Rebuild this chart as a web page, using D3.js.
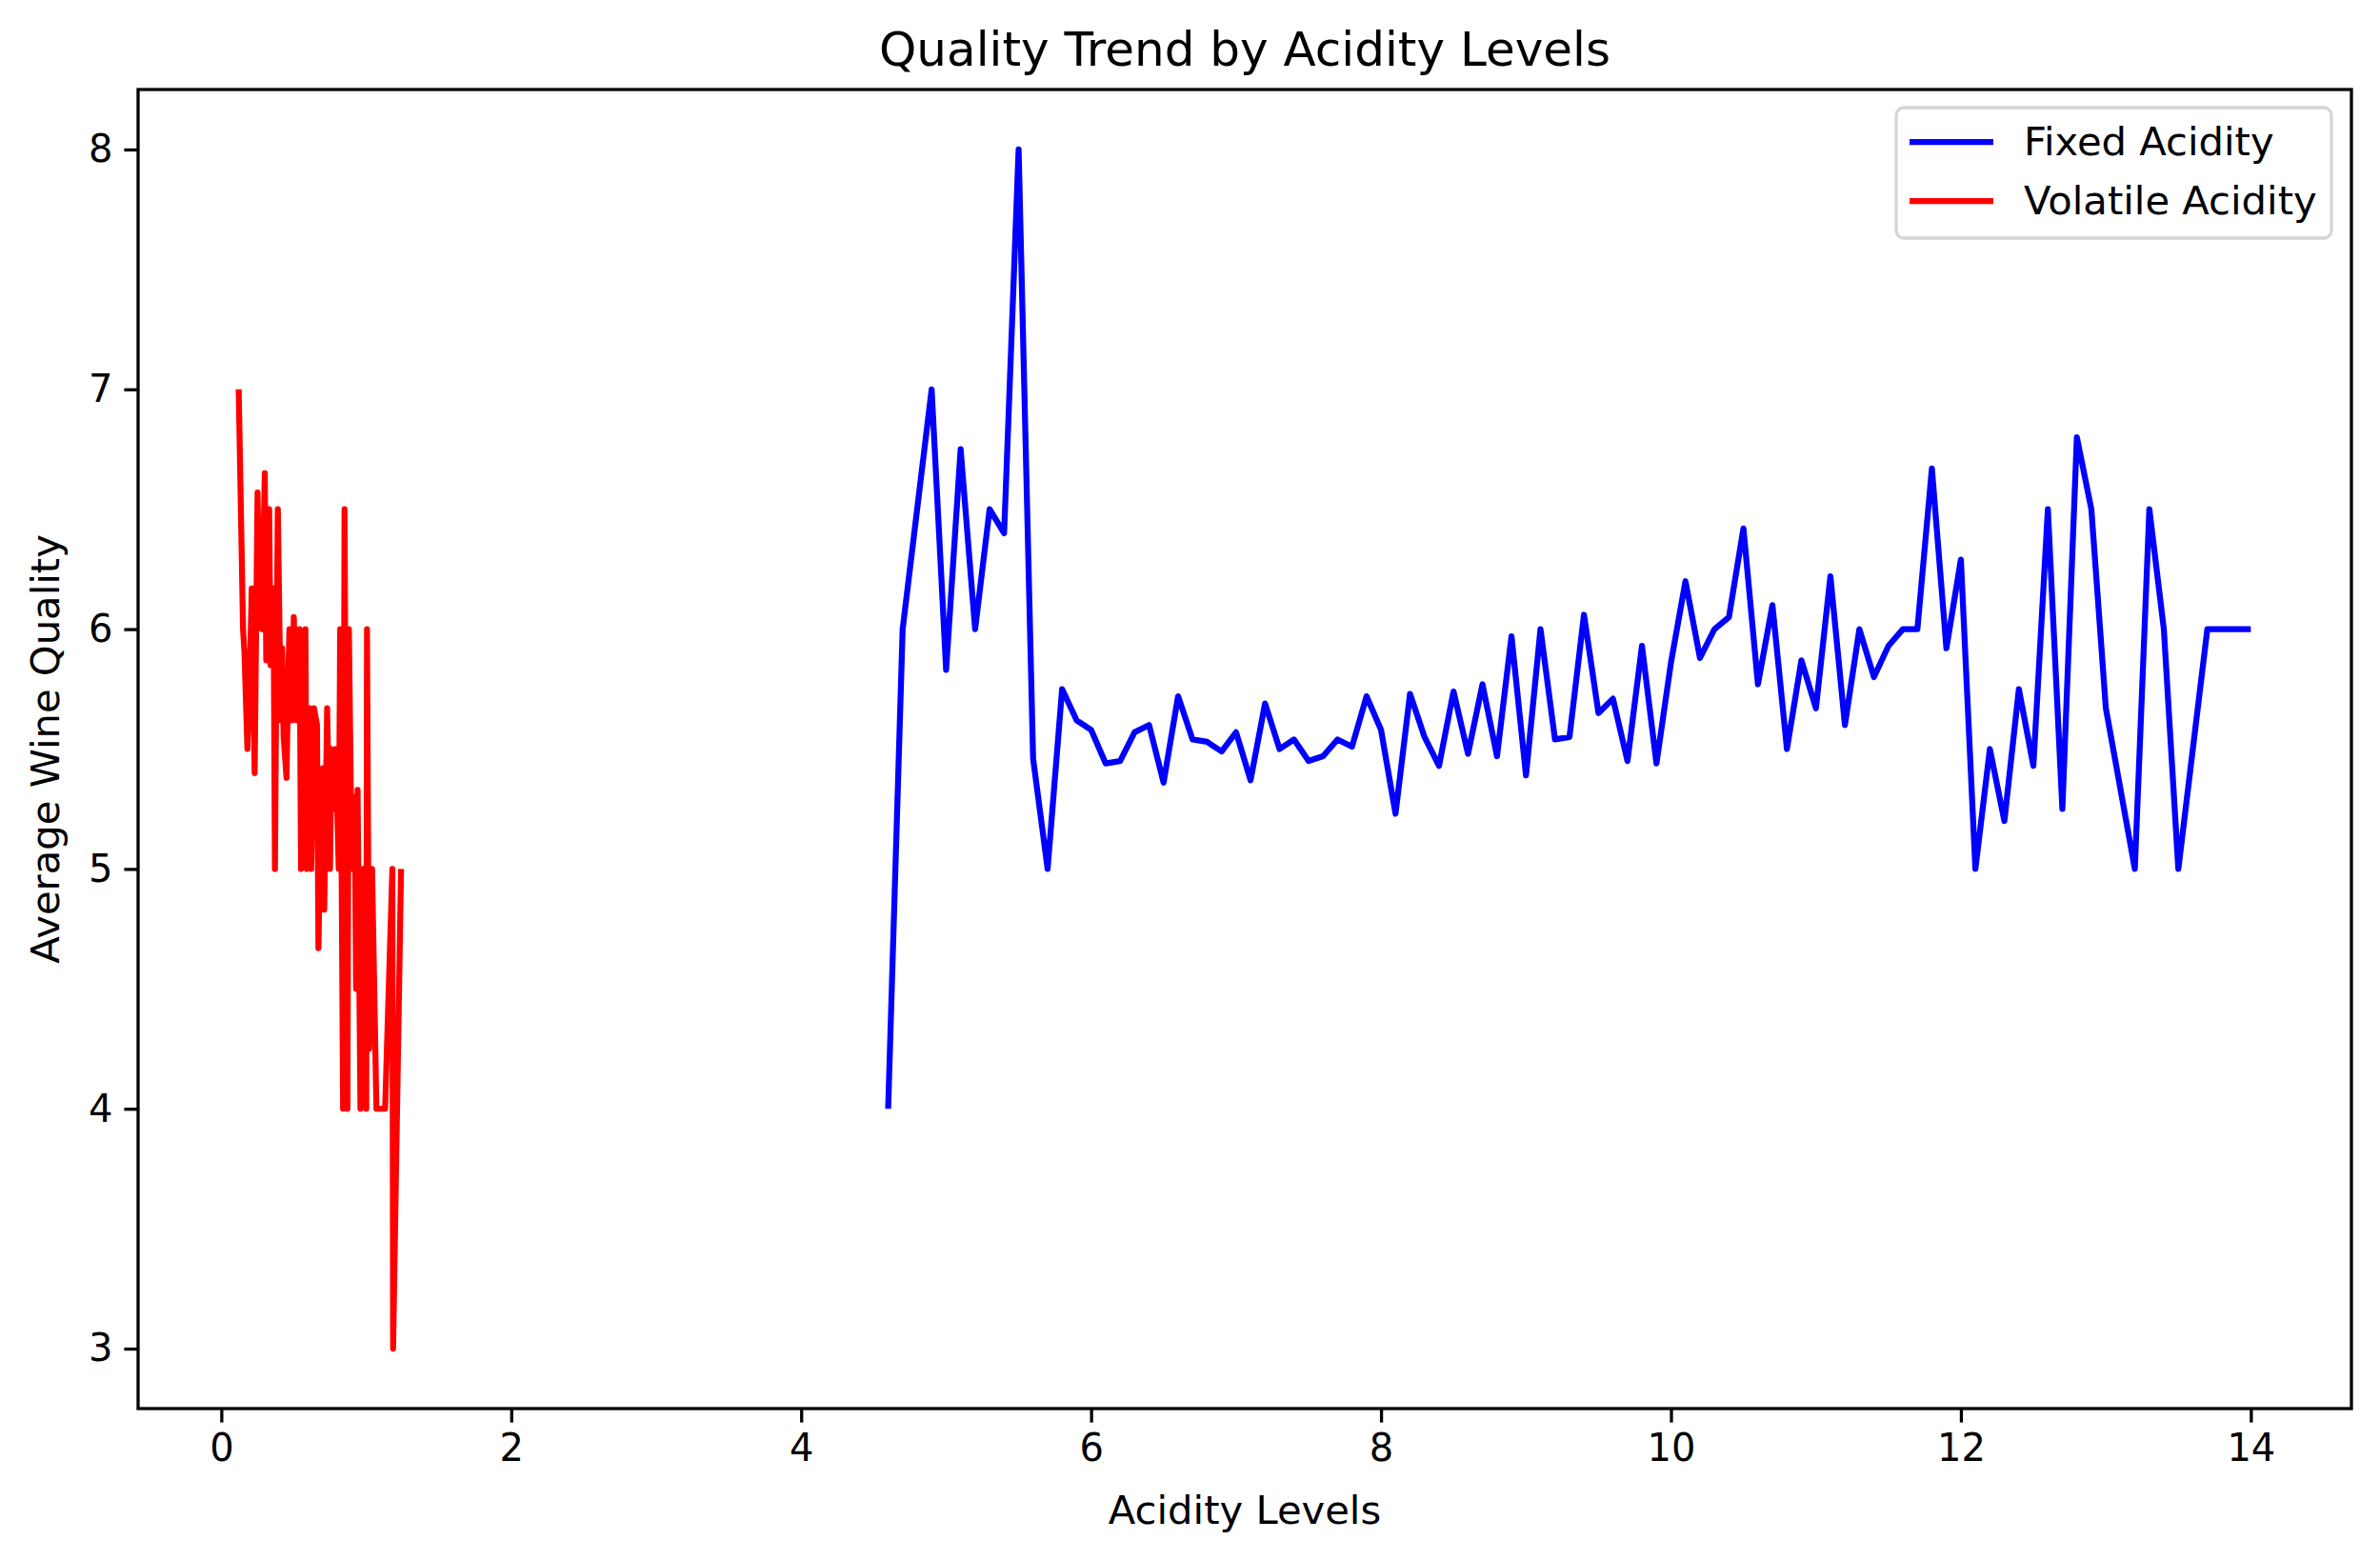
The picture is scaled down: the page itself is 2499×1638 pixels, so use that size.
<!doctype html>
<html>
<head>
<script src="https://cdn.jsdelivr.net/npm/d3@7/dist/d3.min.js"></script>
<style>
  body { margin: 0; background: #fff; }
  text { font-family: "DejaVu Sans", sans-serif; }
</style>
</head>
<body>
<svg id="chart"></svg>
<script>
// fixed acidity levels and mean quality
var fixedX = [4.6,4.7,4.9,5.0,5.1,5.2,5.3,5.4,5.5,5.6,5.7,5.8,5.9,6.0,6.1,6.2,6.3,6.4,6.5,6.6,6.7,6.8,6.9,7.0,
  7.1,7.2,7.3,7.4,7.5,7.6,7.7,7.8,7.9,8.0,8.1,8.2,8.3,8.4,8.5,8.6,8.7,8.8,8.9,9.0,9.1,9.2,9.3,9.4,9.5,9.6,
  9.7,9.8,9.9,10.0,10.1,10.2,10.3,10.4,10.5,10.6,10.7,10.8,10.9,11.0,11.1,11.2,11.3,11.4,11.5,11.6,11.7,
  11.8,11.9,12.0,12.1,12.2,12.3,12.4,12.5,12.6,12.7,12.8,12.9,13.0,13.2,13.3,13.4,13.5,13.6,13.7,14.0];
var fixedQ = [4.0,6.0,7.0,5.83,6.75,6.0,6.5,6.4,8.0,5.46,5.0,5.75,5.62,5.58,5.44,5.45,5.57,5.6,5.36,5.72,5.54,5.53,5.49,5.57,
  5.37,5.69,5.5,5.54,5.45,5.47,5.54,5.51,5.72,5.58,5.23,5.73,5.55,5.43,5.74,5.48,5.77,5.47,5.97,5.39,6.0,5.54,5.55,6.06,5.65,5.71,
  5.45,5.93,5.44,5.86,6.2,5.88,6.0,6.05,6.42,5.77,6.1,5.5,5.87,5.67,6.22,5.6,6.0,5.8,5.93,6.0,6.0,
  6.67,5.92,6.29,5.0,5.5,5.2,5.75,5.43,6.5,5.25,6.8,6.5,5.67,5.0,6.5,6.0,5.0,5.5,6.0,6.0];
// volatile acidity levels and mean quality
var volX = [0.12,0.15,0.16,0.18,0.2,0.21,0.23,0.25,0.26,0.28,0.3,0.31,0.33,0.34,0.36,0.37,0.38,0.39,0.41,0.42,0.43,0.45,
  0.46,0.47,0.49,0.5,0.52,0.54,0.55,0.58,0.59,0.61,0.62,0.64,0.66,0.67,0.69,0.7,0.71,0.73,0.75,0.76,0.78,0.79,0.81,0.82,
  0.84,0.85,0.87,0.88,0.9,0.92,0.93,0.94,0.96,0.98,1.0,1.005,1.02,1.04,1.07,1.13,1.18,1.185,1.24];
var volQ = [7.0,6.0,5.9,5.5,5.9,6.17,5.4,6.57,6.17,6.0,6.65,5.87,6.5,5.85,6.17,5.0,5.85,6.5,5.62,5.92,5.55,5.38,
  5.75,6.0,5.62,6.05,5.62,6.0,5.0,6.0,5.0,5.67,5.0,5.67,5.6,4.67,5.4,5.42,4.83,5.67,5.0,5.5,5.25,5.5,5.0,6.0,
  4.0,6.5,4.0,6.0,5.0,5.3,4.5,5.33,4.0,5.0,4.0,6.0,4.25,5.0,4.0,4.0,5.0,3.0,5.0];
var xTicks = [0,2,4,6,8,10,12,14];
var yTicks = [3,4,5,6,7,8];

var W = 2499, H = 1638;
var m = {left:145, right:30, top:94, bottom:159};
var svg = d3.select("#chart").attr("width",W).attr("height",H);
var x = d3.scaleLinear().domain([-0.574,14.694]).range([m.left, W-m.right]);
var y = d3.scaleLinear().domain([2.75,8.25]).range([H-m.bottom, m.top]);

var line = d3.line().x(d=>x(d[0])).y(d=>y(d[1]));
var clip = svg.append("clipPath").attr("id","c").append("rect")
  .attr("x",m.left).attr("y",m.top).attr("width",W-m.right-m.left).attr("height",H-m.bottom-m.top);
var plot = svg.append("g").attr("clip-path","url(#c)");
plot.append("path").datum(d3.zip(fixedX,fixedQ)).attr("d",line)
  .attr("fill","none").attr("stroke","#0000ff").attr("stroke-width",6.25).attr("stroke-linejoin","round");
plot.append("path").datum(d3.zip(volX,volQ)).attr("d",line)
  .attr("fill","none").attr("stroke","#ff0000").attr("stroke-width",6.25).attr("stroke-linejoin","round");

var xa = svg.append("g").attr("transform","translate(0,"+(H-m.bottom)+")")
  .call(d3.axisBottom(x).tickValues(xTicks).tickSize(14.6).tickPadding(12).tickFormat(d3.format("d")));
var ya = svg.append("g").attr("transform","translate("+m.left+",0)")
  .call(d3.axisLeft(y).tickValues(yTicks).tickSize(14.6).tickPadding(12).tickFormat(d3.format("d")));
[xa,ya].forEach(a=>{
  a.select(".domain").remove();
  a.selectAll(".tick line").attr("stroke","#000").attr("stroke-width",3.3);
  a.selectAll(".tick text").attr("fill","#000").style("font-size","40px");
});
svg.append("rect").attr("x",m.left).attr("y",m.top).attr("width",W-m.right-m.left).attr("height",H-m.bottom-m.top)
  .attr("fill","none").attr("stroke","#000").attr("stroke-width",3.3);

svg.append("text").attr("x",(m.left+W-m.right)/2).attr("y",m.top-25).attr("text-anchor","middle")
  .style("font-size","50px").text("Quality Trend by Acidity Levels");
svg.append("text").attr("x",(m.left+W-m.right)/2).attr("y",H-38).attr("text-anchor","middle")
  .style("font-size","41.7px").text("Acidity Levels");
svg.append("text").attr("transform","translate(62,"+((m.top+H-m.bottom)/2)+") rotate(-90)").attr("text-anchor","middle")
  .style("font-size","41.7px").text("Average Wine Quality");

// legend
var lg = svg.append("g").attr("transform","translate(1991,113)");
lg.append("rect").attr("width",457).attr("height",137).attr("rx",8)
  .attr("fill","#fff").attr("fill-opacity",0.8).attr("stroke","#d5d5d5").attr("stroke-width",3.3);
[["Fixed Acidity","#0000ff"],["Volatile Acidity","#ff0000"]].forEach((s,i)=>{
  var yy = 36 + i*62;
  lg.append("line").attr("x1",14).attr("x2",102).attr("y1",yy).attr("y2",yy)
    .attr("stroke",s[1]).attr("stroke-width",6.25);
  lg.append("text").attr("x",134).attr("y",yy+14).style("font-size","41.7px").text(s[0]);
});
</script>
</body>
</html>
